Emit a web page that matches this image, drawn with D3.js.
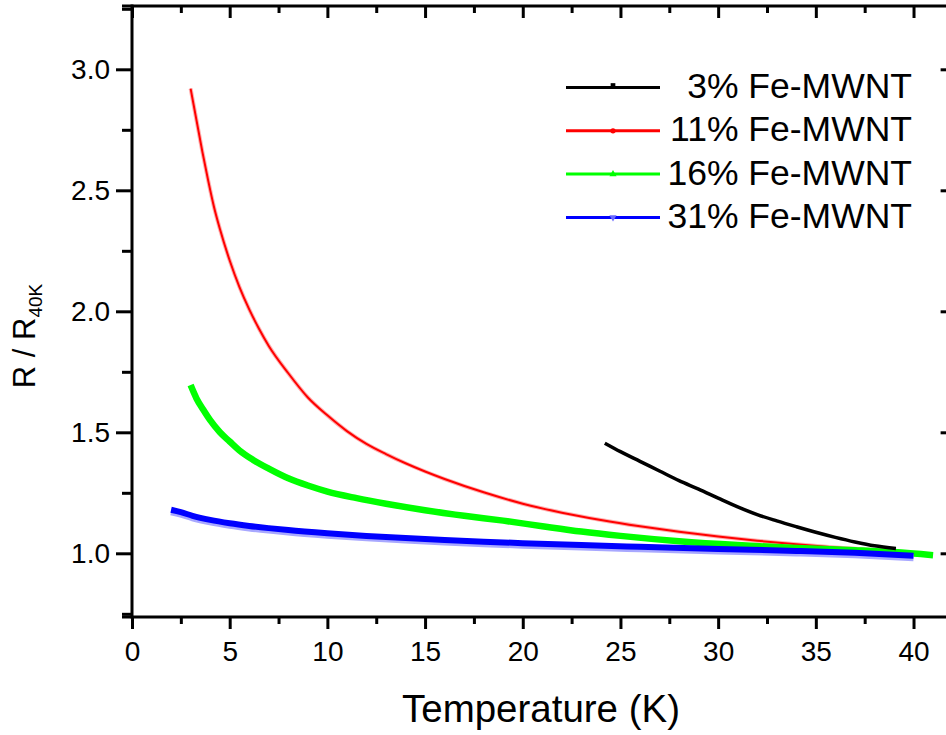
<!DOCTYPE html>
<html>
<head>
<meta charset="utf-8">
<script src="https://cdn.jsdelivr.net/npm/d3@7"></script>
<style>
  html, body { margin: 0; padding: 0; background: #fff; }
  svg { display: block; font-family: "Liberation Sans", Arial, sans-serif; }
</style>
</head>
<body>
<svg id="chart" width="946" height="735"></svg>
<script>
// series: temperature (K) and R / R40K
const seriesNames = ["3% Fe-MWNT", "11% Fe-MWNT", "16% Fe-MWNT", "31% Fe-MWNT"];
const seriesColors = ["#000000", "#ff0000", "#00ff00", "#0000ff"];

const temp3 = [24.2, 25, 26, 27, 28, 29, 30, 31, 32, 33, 34, 35, 36, 37, 38, 39.1];
const ratio3 = [1.455, 1.42, 1.38, 1.34, 1.30, 1.265, 1.228, 1.192, 1.16, 1.134, 1.11, 1.087, 1.066, 1.047, 1.031, 1.02];

const temp11 = [3.0, 3.3, 3.6, 3.9, 4.2, 4.5, 5, 5.5, 6, 6.5, 7, 8, 9, 10, 11, 12, 13, 14, 15, 16, 18, 20, 22, 24, 26, 28, 30, 32, 34, 36, 38, 39];
const ratio11 = [2.92, 2.79, 2.66, 2.54, 2.43, 2.34, 2.21, 2.10, 2.008, 1.928, 1.857, 1.744, 1.644, 1.57, 1.505, 1.452, 1.41, 1.372, 1.338, 1.307, 1.252, 1.205, 1.168, 1.138, 1.112, 1.089, 1.069, 1.052, 1.037, 1.024, 1.014, 1.01];

const temp16 = [3.0, 3.3, 3.65, 4, 4.5, 5, 5.5, 6.2, 7, 8, 9, 10, 11.5, 13, 15, 17, 19, 21, 23, 25, 28, 31, 34, 37, 39, 41];
const ratio16 = [1.695, 1.64, 1.593, 1.55, 1.50, 1.462, 1.425, 1.386, 1.35, 1.31, 1.28, 1.255, 1.228, 1.205, 1.178, 1.155, 1.135, 1.112, 1.09, 1.072, 1.05, 1.034, 1.022, 1.013, 1.005, 0.992];

const temp31 = [2.0, 2.5, 3.1, 4, 5, 6, 7, 8, 10, 12, 14, 16, 18, 20, 23, 26, 30, 34, 37, 40];
const ratio31 = [1.18, 1.17, 1.155, 1.138, 1.124, 1.113, 1.104, 1.096, 1.083, 1.072, 1.063, 1.055, 1.048, 1.042, 1.034, 1.027, 1.018, 1.01, 1.002, 0.99];

const xTicks = [0, 5, 10, 15, 20, 25, 30, 35, 40];
const xMinorTicks = [2.5, 7.5, 12.5, 17.5, 22.5, 27.5, 32.5, 37.5];
const yTicks = [1.0, 1.5, 2.0, 2.5, 3.0];
const yMinorTicks = [0.75, 1.25, 1.75, 2.25, 2.75, 3.25];

const svg = d3.select("#chart");

const mLeft = 132, mRight = 952.6, mTop = 6, mBottom = 617;
const x = d3.scaleLinear().domain([0, 42]).range([mLeft, mRight]);
const y = d3.scaleLinear().domain([0.7368, 3.2616]).range([mBottom, mTop]);

const line = d3.line()
    .x(d => x(d[0]))
    .y(d => y(d[1]))
    .curve(d3.curveMonotoneX);

const zip = (a, b) => a.map((v, i) => [v, b[i]]);

// curves (red, green, blue, then black on top)
const g = svg.append("g");
g.append("path").datum(zip(temp11, ratio11))
    .attr("d", line).attr("fill", "none")
    .attr("stroke", "#ffb0b0").attr("stroke-width", 4);
g.append("path").datum(zip(temp11, ratio11))
    .attr("d", line).attr("fill", "none")
    .attr("stroke", seriesColors[1]).attr("stroke-width", 2);

g.append("path").datum(zip(temp16, ratio16))
    .attr("d", line).attr("fill", "none")
    .attr("stroke", seriesColors[2]).attr("stroke-width", 6.5);

g.append("path").datum(zip(temp31, ratio31))
    .attr("d", line).attr("fill", "none")
    .attr("stroke", "#a8a8ff").attr("stroke-width", 7)
    .attr("transform", "translate(0,2)");
g.append("path").datum(zip(temp31, ratio31))
    .attr("d", line).attr("fill", "none")
    .attr("stroke", seriesColors[3]).attr("stroke-width", 6);

g.append("path").datum(zip(temp3, ratio3))
    .attr("d", line).attr("fill", "none")
    .attr("stroke", seriesColors[0]).attr("stroke-width", 3.5);

// axes
const fmt = d3.format(".1f");
const axes = svg.append("g").attr("class", "axes");

function styleAxis(sel) {
    sel.select(".domain").remove();
    sel.selectAll(".tick line").attr("stroke", "#000").attr("stroke-width", 3);
    sel.selectAll(".tick text").attr("fill", "#000").attr("font-size", 28)
        .attr("font-family", "Liberation Sans, Arial, sans-serif");
}

axes.append("g").attr("transform", `translate(0,${mBottom})`)
    .call(d3.axisBottom(x).tickValues(xTicks).tickFormat(d3.format("d")).tickSize(12).tickPadding(12))
    .call(styleAxis);
axes.append("g").attr("transform", `translate(0,${mBottom})`)
    .call(d3.axisBottom(x).tickValues(xMinorTicks).tickFormat("").tickSize(7))
    .call(styleAxis);
axes.append("g").attr("transform", `translate(0,${mTop})`)
    .call(d3.axisBottom(x).tickValues(xTicks).tickFormat("").tickSize(12))
    .call(styleAxis);
axes.append("g").attr("transform", `translate(0,${mTop})`)
    .call(d3.axisBottom(x).tickValues(xMinorTicks).tickFormat("").tickSize(7))
    .call(styleAxis);

axes.append("g").attr("transform", `translate(${mLeft},0)`)
    .call(d3.axisLeft(y).tickValues(yTicks).tickFormat(fmt).tickSize(16).tickPadding(6))
    .call(styleAxis);
axes.append("g").attr("transform", `translate(${mLeft},0)`)
    .call(d3.axisLeft(y).tickValues(yMinorTicks.filter(v => v < 3.26)).tickFormat("").tickSize(10))
    .call(styleAxis);
axes.append("g").attr("transform", `translate(${mRight},0)`)
    .call(d3.axisLeft(y).tickValues(yTicks).tickFormat("").tickSize(12))
    .call(styleAxis);
axes.append("g").attr("transform", `translate(${mRight},0)`)
    .call(d3.axisLeft(y).tickValues(yMinorTicks.filter(v => v < 3.26)).tickFormat("").tickSize(6))
    .call(styleAxis);

// frame
axes.append("line").attr("x1", mLeft - 10).attr("x2", mRight).attr("y1", mTop).attr("y2", mTop)
    .attr("stroke", "#000").attr("stroke-width", 3);
axes.append("line").attr("x1", mLeft - 10).attr("x2", mRight).attr("y1", mBottom).attr("y2", mBottom)
    .attr("stroke", "#000").attr("stroke-width", 3);
axes.append("line").attr("x1", mLeft).attr("x2", mLeft).attr("y1", mTop - 1.5).attr("y2", mBottom + 1.5)
    .attr("stroke", "#000").attr("stroke-width", 3);
axes.append("line").attr("x1", mRight).attr("x2", mRight).attr("y1", mTop - 1.5).attr("y2", mBottom + 1.5)
    .attr("stroke", "#000").attr("stroke-width", 3);

// axis titles
svg.append("text")
    .attr("x", 541).attr("y", 722)
    .attr("text-anchor", "middle")
    .attr("font-size", 39)
    .attr("textLength", 278).attr("lengthAdjust", "spacingAndGlyphs")
    .text("Temperature (K)");

const yTitle = svg.append("text")
    .attr("transform", "translate(35,336) rotate(-90)")
    .attr("text-anchor", "middle")
    .attr("font-size", 31);
yTitle.append("tspan").text("R / R");
yTitle.append("tspan").attr("font-size", 19).attr("dy", 7).text("40K");

// legend
const legendY = [87.5, 130.8, 174.1, 217.4];
const legendMarks = ["square", "circle", "triangle", "triangleDown"];
const legend = svg.append("g");
seriesNames.forEach((name, i) => {
    const row = legend.append("g").attr("transform", `translate(0,${legendY[i]})`);
    row.append("line").attr("x1", 566).attr("x2", 660).attr("y1", 0).attr("y2", 0)
        .attr("stroke", seriesColors[i]).attr("stroke-width", 3);
    const sym = {
        square: d3.symbolSquare, circle: d3.symbolCircle,
        triangle: d3.symbolTriangle, triangleDown: d3.symbolTriangle
    }[legendMarks[i]];
    row.append("path")
        .attr("d", d3.symbol().type(sym).size(22)())
        .attr("transform", `translate(613,${i === 0 ? -2 : 0})` + (i === 3 ? " rotate(180)" : ""))
        .attr("fill", i === 3 ? "#6a6aff" : seriesColors[i]);
    row.append("text")
        .attr("x", 912).attr("y", 10.5)
        .attr("text-anchor", "end")
        .attr("font-size", 35.5)
        .text(name);
});
</script>
</body>
</html>
